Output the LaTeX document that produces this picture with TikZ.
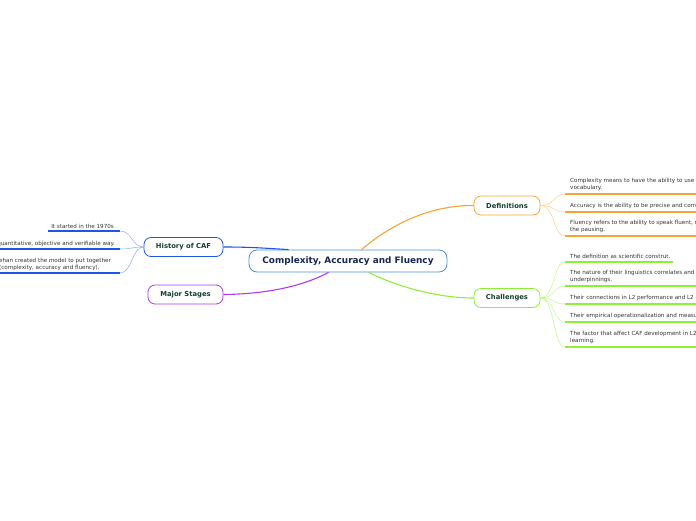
\documentclass[tikz,border=0pt]{standalone}
\usepackage{fontspec}
\setmainfont{DejaVu Sans}
\usetikzlibrary{positioning,calc}
\definecolor{rootblue}{RGB}{74,144,214}
\definecolor{rootink}{RGB}{24,38,86}
\definecolor{topicink}{RGB}{22,62,52}
\definecolor{histblue}{RGB}{28,86,230}
\definecolor{histlight}{RGB}{140,170,240}
\definecolor{defor}{RGB}{248,164,52}
\definecolor{deflight}{RGB}{252,204,140}
\definecolor{chgreen}{RGB}{140,240,56}
\definecolor{chlight}{RGB}{192,246,140}
\definecolor{stpurple}{RGB}{176,56,240}

\begin{document}
\begin{tikzpicture}[x=1pt,y=-1pt,
  topic/.style={draw=#1,line width=.8pt,fill=white,rounded corners=7pt,minimum height=19pt,inner xsep=8pt,font=\fontsize{6.8}{7.5}\selectfont\bfseries,text=topicink},
  leaf/.style={inner sep=0pt,align=left,anchor=south west,font=\fontsize{5.6}{7}\selectfont,text=black!80},
  uline/.style={draw=#1,line width=1.6pt},
  branch/.style={draw=#1,line width=1.1pt},
  twig/.style={draw=#1,line width=.5pt}]
\useasboundingbox (0,0) rectangle (696,520);
% root
\node[draw=rootblue,line width=.8pt,fill=white,rounded corners=8pt,minimum width=198pt,minimum height=22pt,font=\fontsize{8.9}{10}\selectfont\bfseries,text=rootink] (root) at (348,261) {Complexity, Accuracy and Fluency};
% main topics
\node[topic=histblue,minimum width=79pt] (hist) at (183.5,247) {History of CAF};
\node[topic=stpurple,minimum width=75pt] (stages) at (185.5,294.5) {Major Stages};
\node[topic=defor,minimum width=66pt] (defs) at (507,205.5) {Definitions};
\node[topic=chgreen,minimum width=66pt] (chall) at (507,298) {Challenges};
% branches
\draw[branch=histblue] (hist.east) .. controls (250,247) and (262,248) .. ($(root.north west)+(40,0)$);
\draw[branch=stpurple] (stages.east) .. controls (270,294) and (305,285) .. ($(root.south west)+(80,0)$);
\draw[branch=defor] ($(root.north west)+(113,0)$) .. controls (390,225) and (430,205) .. (defs.west);
\draw[branch=chgreen] ($(root.south west)+(120,0)$) .. controls (400,288) and (440,298) .. (chall.west);

% history leaves
\coordinate (h1) at (120,231);
\coordinate (h2) at (120,249);
\coordinate (h3) at (120,273);
\draw[uline=histblue] (48,231) -- (h1);
\draw[uline=histblue] (-2,249) -- (h2);
\draw[uline=histblue] (-2,273) -- (h3);
\node[leaf,anchor=south east] (ht1) at (114,228.5) {It started in the 1970s};
\node[leaf,anchor=south east] (ht2) at (115,246.5) {quantitative, objective and verifiable way.};
\node[leaf] (ht3) at (-1,270.5) {ehan created the model to put together\\(complexity, accuracy and fluency).};
\foreach \c in {h1,h2,h3}
  \draw[twig=histlight] (hist.west) .. controls (132,247) and (132,0|-\c) .. (\c);

% definition leaves
\coordinate (d1) at (565,194);
\coordinate (d2) at (565,212);
\coordinate (d3) at (565,236);
\foreach \c in {d1,d2,d3} {
  \draw[uline=defor] (\c) -- (700,0|-\c);
  \draw[twig=deflight] (defs.east) .. controls (555,205.5) and (553,0|-\c) .. (\c);
}
\node[leaf] (dt1) at (570,190.5) {Complexity means to have the ability to use c\\vocabulary.};
\node[leaf] (dt2) at (570,208.5) {Accuracy is the ability to be precise and corre};
\node[leaf] (dt3) at (570,232.5) {Fluency refers to the ability to speak fluent, n\\the pausing.};

% challenge leaves
\coordinate (c1) at (565,262);
\coordinate (c2) at (565,286);
\coordinate (c3) at (565,304);
\coordinate (c4) at (565,322);
\coordinate (c5) at (565,347);
\draw[uline=chgreen] (c1) -- (673,262);
\foreach \c in {c2,c3,c4,c5}
  \draw[uline=chgreen] (\c) -- (700,0|-\c);
\foreach \c in {c1,c2,c3,c4,c5}
  \draw[twig=chlight] (chall.east) .. controls (555,298) and (553,0|-\c) .. (\c);
\node[leaf] (ct1) at (570,258.5) {The definition as scientific construt.};
\node[leaf] (ct2) at (570,282.5) {The nature of their linguistics correlates and c\\underpinnings.};
\node[leaf] (ct3) at (570,300.5) {Their connections in L2 performance and L2 c};
\node[leaf] (ct4) at (570,318.5) {Their empirical operationalization and measur};
\node[leaf] (ct5) at (570,343.5) {The factor that affect CAF development in L2\\learning.};
\end{tikzpicture}
\end{document}
